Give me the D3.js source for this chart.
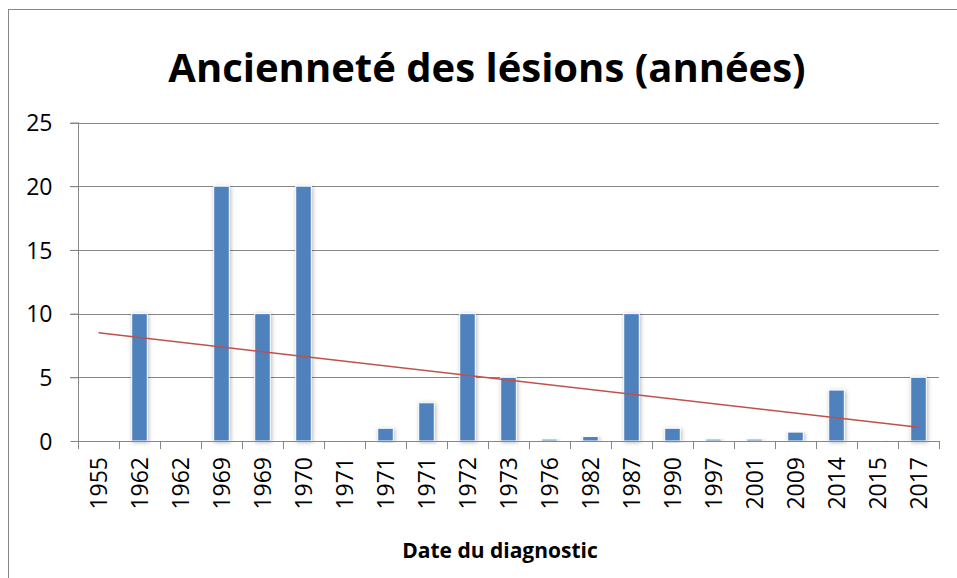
<!DOCTYPE html>
<html lang="fr">
<head>
  <meta charset="UTF-8">
  <title>Ancienneté des lésions (années)</title>
  <script src="https://cdn.jsdelivr.net/npm/d3@7"></script>
  <style>
    body {
      margin: 0;
      background: #ffffff;
    }
    svg {
      display: block;
      font-family: 'Open Sans', sans-serif;
    }
    .grid line {
      stroke: #868686;
      stroke-width: 1;
    }
    .axis path, .axis line {
      stroke: #868686;
      stroke-width: 1;
    }
    .axis text {
      fill: #000000;
      font-family: 'Open Sans', sans-serif;
      font-size: 23px;
    }
  </style>
</head>
<body>
  <svg width="957" height="578"></svg>

  <script>
    // dates du diagnostic (une par lésion) et ancienneté en années
    const dates = ["1955", "1962", "1962", "1969", "1969", "1970", "1971", "1971", "1971",
      "1972", "1973", "1976", "1982", "1987", "1990", "1997", "2001", "2009", "2014", "2015", "2017"];
    const anciennete = [0, 10, 0, 20, 10, 20, 0, 1, 3, 10, 5, 0.15, 0.35, 10, 1, 0.15, 0.15, 0.7, 4, 0.05, 5];
    const yTicks = [0, 5, 10, 15, 20, 25];

    const svg = d3.select("svg");
    const margin = { left: 78, right: 18, top: 122.5, bottom: 137 };
    const width = 957;
    const height = 578;

    // cadre du graphique
    svg.append("rect")
      .attr("x", 8.5).attr("y", 9.5)
      .attr("width", 1000).attr("height", 700)
      .attr("fill", "none")
      .attr("stroke", "#868686");

    const rows = dates.map((d, i) => ({ key: i, date: d, value: anciennete[i] }));

    const x = d3.scaleBand()
      .domain(rows.map(d => d.key))
      .range([margin.left, width - margin.right])
      .paddingInner(0.62)
      .paddingOuter(0.31);

    const y = d3.scaleLinear()
      .domain([0, 25])
      .range([height - margin.bottom, margin.top]);

    // lignes de grille
    svg.append("g")
      .attr("class", "grid")
      .selectAll("line")
      .data(yTicks.filter(t => t > 0))
      .join("line")
      .attr("x1", margin.left - 8)
      .attr("x2", width - margin.right)
      .attr("y1", d => Math.round(y(d)) + 0.5)
      .attr("y2", d => Math.round(y(d)) + 0.5);

    // ombre portée des barres
    const defs = svg.append("defs");
    const shadow = defs.append("filter")
      .attr("id", "ombre")
      .attr("x", "-50%").attr("y", "-10%")
      .attr("width", "200%").attr("height", "120%");
    shadow.append("feDropShadow")
      .attr("dx", 1).attr("dy", 1)
      .attr("stdDeviation", 2)
      .attr("flood-color", "#000000")
      .attr("flood-opacity", 0.28);

    svg.append("g")
      .selectAll("rect")
      .data(rows)
      .join("rect")
      .attr("x", d => x(d.key))
      .attr("y", d => y(d.value))
      .attr("width", x.bandwidth())
      .attr("height", d => y(0) - y(d.value))
      .attr("fill", "#4F81BD")
      .attr("stroke", "#ffffff")
      .attr("stroke-width", 1)
      .attr("filter", "url(#ombre)");

    // axe Y
    const yAxis = svg.append("g")
      .attr("class", "axis")
      .attr("transform", `translate(${margin.left + 0.5},0)`)
      .call(d3.axisLeft(y).tickValues(yTicks).tickSize(8).tickPadding(18));
    yAxis.select(".domain").attr("d", `M0,${y(25)}V${y(0)}`);
    yAxis.selectAll(".tick line").attr("stroke", "#868686");
    yAxis.selectAll("text").attr("dy", "0.36em");

    // axe X : graduations entre les catégories
    const boundaries = d3.range(dates.length + 1).map(i => margin.left + i * (width - margin.right - margin.left) / dates.length);
    const xAxis = svg.append("g").attr("class", "axis");
    xAxis.append("line")
      .attr("x1", margin.left).attr("x2", width - margin.right)
      .attr("y1", Math.round(y(0)) + 0.5).attr("y2", Math.round(y(0)) + 0.5);
    xAxis.selectAll("line.tk")
      .data(boundaries)
      .join("line")
      .attr("class", "tk")
      .attr("x1", d => Math.round(d) + 0.5).attr("x2", d => Math.round(d) + 0.5)
      .attr("y1", y(0)).attr("y2", y(0) + 8);
    xAxis.selectAll("text")
      .data(rows)
      .join("text")
      .attr("transform", d => `translate(${x(d.key) + x.bandwidth() / 2 + 8},${y(0) + 16}) rotate(-90)`)
      .attr("text-anchor", "end")
      .text(d => d.date);

    // courbe de tendance linéaire (moindres carrés)
    const n = rows.length;
    const idx = d3.range(1, n + 1);
    const mx = d3.mean(idx), my = d3.mean(anciennete);
    const slope = d3.sum(idx, (k, i) => (k - mx) * (anciennete[i] - my)) / d3.sum(idx, k => (k - mx) * (k - mx));
    const trend = [0, n - 1].map(i => ({ key: i, value: my + slope * (i + 1 - mx) }));
    svg.append("path")
      .datum(trend)
      .attr("fill", "none")
      .attr("stroke", "#C0504D")
      .attr("stroke-width", 1.5)
      .attr("d", d3.line().x(d => x(d.key) + x.bandwidth() / 2).y(d => y(d.value)));

    // titres
    svg.append("text")
      .attr("x", 487)
      .attr("y", 82)
      .attr("text-anchor", "middle")
      .attr("font-size", 40)
      .attr("font-weight", "bold")
      .text("Ancienneté des lésions (années)");

    svg.append("text")
      .attr("x", 500)
      .attr("y", 558)
      .attr("text-anchor", "middle")
      .attr("font-size", 21)
      .attr("font-weight", "bold")
      .text("Date du diagnostic");
  </script>
</body>
</html>
